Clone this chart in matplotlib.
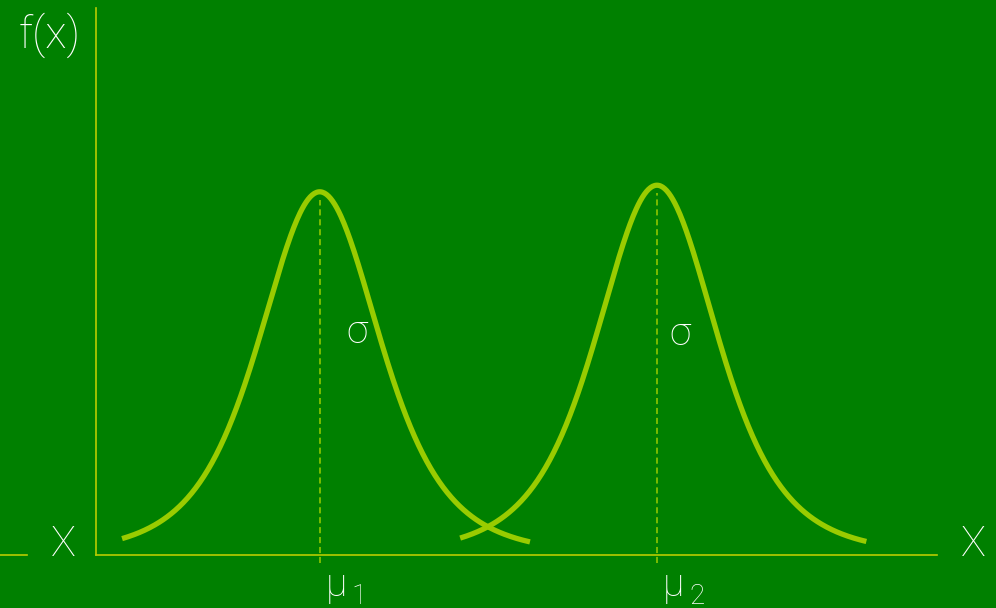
import numpy as np
import matplotlib
matplotlib.use("Agg")
import matplotlib.pyplot as plt

# two bell-shaped densities on a shared X axis
means = [2.66, 6.67]
peaks = [0.664, 0.676]
spread = 0.75          # σ, same for both
tail_df = 4            # tail heaviness of the bell profile
spans = [(0.31, 5.16), (4.33, 9.16)]
mean_labels = [("μ", "1"), ("μ", "2")]
sigma_label_x = [3.10, 6.94]
sigma_label_y = [0.408, 0.404]

BG = "#008000"
CURVE = "#99cc00"
AXIS = "#b8cc00"
TEXT = "white"
FONT = ["Roboto", "DejaVu Sans"]


def bell(x, mu, s, height):
    u = (x - mu) / s
    return height * (1 + u ** 2 / tail_df) ** (-(tail_df + 1) / 2)


fig = plt.figure(figsize=(9.96, 6.08), dpi=100, facecolor=BG)
ax = fig.add_axes([96 / 996, 53 / 608, 841 / 996, 547 / 608])
ax.set_facecolor(BG)
ax.set_xlim(0, 10)
ax.set_ylim(0, 1)
for side in ("top", "right"):
    ax.spines[side].set_visible(False)
for side in ("left", "bottom"):
    ax.spines[side].set_color(AXIS)
    ax.spines[side].set_linewidth(1.2)
ax.set_xticks([])
ax.set_yticks([])

for mu, h, (x0, x1) in zip(means, peaks, spans):
    xs = np.linspace(x0, x1, 400)
    ax.plot(xs, bell(xs, mu, spread, h), color=CURVE, lw=3.8,
            solid_capstyle="butt", clip_on=False)
    ax.plot([mu, mu], [-0.015, h - 0.015], color=CURVE, lw=1.1,
            ls=(0, (4, 2.5)), clip_on=False)

# short stub of the X axis left of the origin
ax.plot([-1.15, -0.82], [0, 0], color=AXIS, lw=1.2, clip_on=False)

txt = dict(color=TEXT, family=FONT, fontweight="light", clip_on=False)
ax.text(-0.55, 0.951, "f(x)", fontsize=32, ha="center", va="center", **txt)
ax.text(-0.39, 0.02, "X", fontsize=30, ha="center", va="center", **txt)
ax.text(10.43, 0.02, "X", fontsize=30, ha="center", va="center", **txt)

for mu, (sym, sub) in zip(means, mean_labels):
    ax.text(mu + 0.07, -0.055, sym, fontsize=28, ha="left", va="center", **txt)
    ax.text(mu + 0.38, -0.075, sub, fontsize=20, ha="left", va="center", **txt)

for x, y in zip(sigma_label_x, sigma_label_y):
    ax.text(x, y, "σ", fontsize=28, ha="center", va="center", **txt)

fig.savefig("out.png", dpi=100, facecolor=BG)
